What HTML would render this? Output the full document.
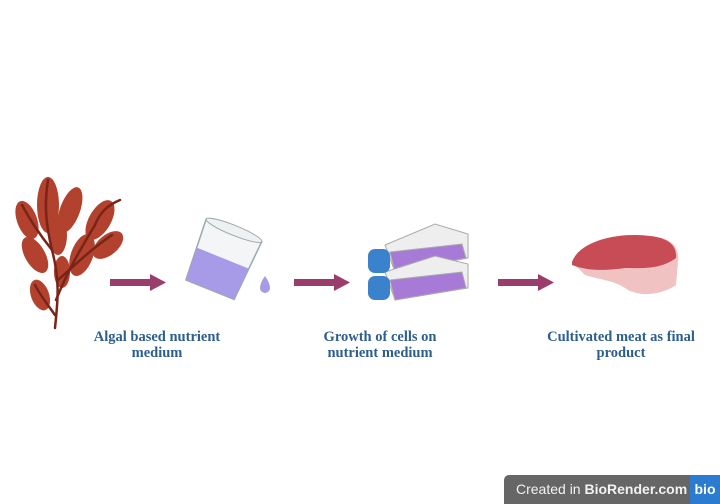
<!DOCTYPE html>
<html><head><style>
body{margin:0;background:#fff;width:720px;height:504px;overflow:hidden;position:relative;font-family:"Liberation Sans",sans-serif}
.lbl{position:absolute;font-family:"Liberation Serif",serif;font-weight:bold;color:#2d5e8e;font-size:14.5px;line-height:16px;text-align:center;width:200px}
.badge{position:absolute;left:504px;top:475px;width:216px;height:29px;background:#666;border-radius:5px 0 0 0;color:#f2f2f2;font-size:14px;line-height:29px}
.badge span.t{position:absolute;left:12px}
.badge .b{position:absolute;right:0;top:0;width:30px;height:29px;background:#2b7bd0;color:#fff;font-weight:bold;text-align:center}
</style></head><body>
<svg width="720" height="504" style="position:absolute;left:0;top:0">
<!-- seaweed -->
<g fill="#b2412e">
<ellipse cx="48" cy="205" rx="11" ry="28"/>
<ellipse cx="70" cy="210" rx="10" ry="24" transform="rotate(20 70 210)"/>
<ellipse cx="27" cy="220" rx="10" ry="20" transform="rotate(-20 27 220)"/>
<ellipse cx="35" cy="255" rx="10" ry="20" transform="rotate(-30 35 255)"/>
<ellipse cx="100" cy="220" rx="11" ry="22" transform="rotate(30 100 220)"/>
<ellipse cx="108" cy="245" rx="10" ry="18" transform="rotate(50 108 245)"/>
<ellipse cx="82" cy="255" rx="11" ry="22" transform="rotate(20 82 255)"/>
<ellipse cx="40" cy="295" rx="9" ry="16" transform="rotate(-20 40 295)"/>
<ellipse cx="62" cy="272" rx="8" ry="16"/>
<ellipse cx="58" cy="235" rx="9" ry="20"/>
</g>
<g stroke="#7a2418" stroke-width="2.5" fill="none" stroke-linecap="round">
<path d="M55 328 C58 300 60 280 52 250 C46 225 44 205 48 180"/>
<path d="M56 300 C68 270 80 250 95 225 C100 212 108 205 120 200"/>
<path d="M52 250 C40 235 30 220 22 205"/>
<path d="M58 280 C75 265 90 250 112 235"/>
<path d="M55 315 C48 305 40 295 35 285"/>
</g>
<!-- arrows -->
<g fill="#9b3d6c">
<rect x="110" y="279" width="43" height="7"/><path d="M150 274 L166 282.5 L150 291Z"/>
<rect x="294" y="279" width="43" height="7"/><path d="M334 274 L350 282.5 L334 291Z"/>
<rect x="498" y="279" width="43" height="7"/><path d="M538 274 L554 282.5 L538 291Z"/>
</g>
<!-- beaker -->
<g transform="rotate(22 222 260)">
<path d="M192 228 L252 228 L248 292 L196 292 Z" fill="#f4f5f7" stroke="#9aa" stroke-width="1.5"/>
<path d="M194 258 L250 258 L248 292 L196 292Z" fill="#a79ae6"/>
<ellipse cx="222" cy="228" rx="30" ry="5" fill="#eef0f2" stroke="#9aa"/>
</g>
<path d="M265 276 Q270 283 270 288 A5 5 0 0 1 260 288 Q260 283 265 276Z" fill="#a79ae6"/>
<!-- flasks -->
<g stroke="#aaa" stroke-width="1">
<path d="M385 245 L435 224 L468 234 L468 258 L395 272Z" fill="#eee"/>
<path d="M390 252 L462 244 L466 258 L395 272Z" fill="#a77ad8"/>
<path d="M385 272 L435 256 L468 264 L468 288 L395 300Z" fill="#eee"/>
<path d="M390 280 L462 272 L466 288 L395 300Z" fill="#a77ad8"/>
</g>
<rect x="368" y="249" width="22" height="24" rx="7" fill="#3a82cc"/>
<rect x="368" y="276" width="22" height="24" rx="7" fill="#3a82cc"/>
<!-- meat -->
<path d="M572 262 C580 240 620 232 650 236 C670 238 680 245 678 262 L676 285 C660 296 640 296 628 290 C615 280 600 280 585 275 Z" fill="#f0c2c2"/>
<path d="M572 262 C580 240 620 232 650 236 C668 238 677 245 676 258 C660 270 640 268 625 268 C610 270 590 272 572 265Z" fill="#c84c55"/>
</svg>
<div class="lbl" style="left:57px;top:329px">Algal based nutrient<br>medium</div>
<div class="lbl" style="left:280px;top:329px">Growth of cells on<br>nutrient medium</div>
<div class="lbl" style="left:521px;top:329px">Cultivated meat as final<br>product</div>
<div class="badge"><span class="t">Created in <b>BioRender.com</b></span><span class="b">bio</span></div>
</body></html>
